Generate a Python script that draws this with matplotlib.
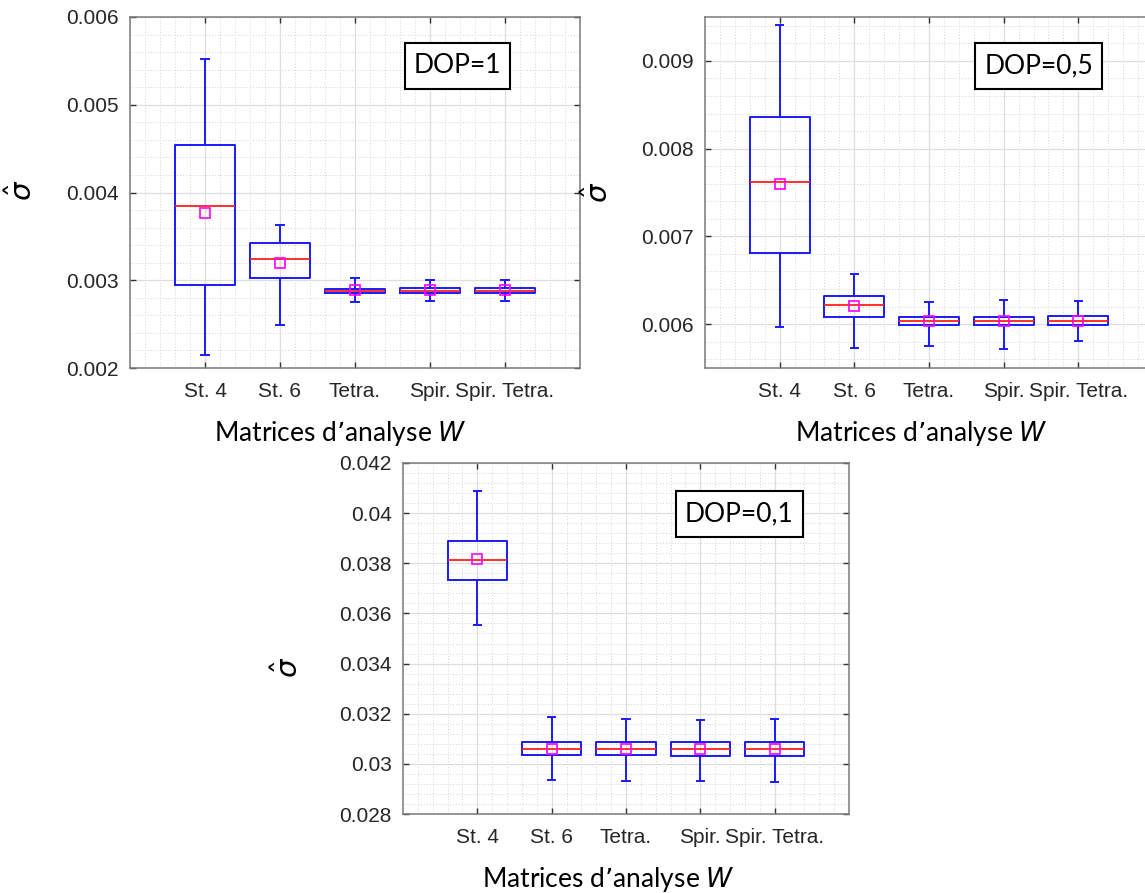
import numpy as np
import matplotlib.pyplot as plt
from matplotlib.patches import Rectangle
from matplotlib.ticker import MultipleLocator

labels = ["St. 4", "St. 6", "Tetra.", "Spir.", "Spir. Tetra."]

# DOP = 1
dop1_whislo = [0.002152, 0.002485, 0.002747, 0.002758, 0.002766]
dop1_q1 = [0.002941, 0.003024, 0.002857, 0.002857, 0.002857]
dop1_med = [0.003843, 0.003247, 0.002883, 0.002883, 0.002883]
dop1_q3 = [0.004537, 0.003429, 0.002905, 0.002910, 0.002910]
dop1_whishi = [0.005526, 0.003634, 0.003024, 0.003001, 0.003001]
dop1_mean = [0.003763, 0.003202, 0.002887, 0.002887, 0.002887]

# DOP = 0,5
dop05_whislo = [0.005970, 0.005727, 0.005753, 0.005711, 0.005806]
dop05_q1 = [0.006805, 0.006084, 0.005985, 0.005985, 0.005985]
dop05_med = [0.007618, 0.006216, 0.006034, 0.006034, 0.006034]
dop05_q3 = [0.008355, 0.006319, 0.006084, 0.006084, 0.006088]
dop05_whishi = [0.009411, 0.006573, 0.006254, 0.006270, 0.006266]
dop05_mean = [0.007595, 0.006201, 0.006034, 0.006034, 0.006034]

# DOP = 0,1
dop01_whislo = [0.035552, 0.029343, 0.029303, 0.029316, 0.029290]
dop01_q1 = [0.037347, 0.030367, 0.030340, 0.030327, 0.030327]
dop01_med = [0.038145, 0.030606, 0.030606, 0.030606, 0.030606]
dop01_q3 = [0.038903, 0.030872, 0.030872, 0.030872, 0.030885]
dop01_whishi = [0.040884, 0.031856, 0.031776, 0.031736, 0.031803]
dop01_mean = [0.038158, 0.030606, 0.030606, 0.030606, 0.030606]

plt.rcParams['mathtext.fontset'] = 'dejavusans'

W, H = 1145, 893
fig = plt.figure(figsize=(W / 100, H / 100), dpi=100)


def add_axes_px(left, right, top, bottom):
    return fig.add_axes([left / W, 1 - bottom / H, (right - left) / W, (bottom - top) / H])


def draw_panel(ax, whislo, q1, med, q3, whishi, mean, ylim, ystep, yminor,
               title, box_x, box_y, xlab_pos, ylab_pos):
    stats = []
    for i in range(len(labels)):
        stats.append(dict(whislo=whislo[i], q1=q1[i], med=med[i], q3=q3[i],
                          whishi=whishi[i], mean=mean[i], fliers=[], label=labels[i]))
    blue = '#1a1aff'
    ax.bxp(stats, positions=range(1, 6), widths=0.8, capwidths=0.1,
           showmeans=True, showfliers=False, zorder=3,
           boxprops=dict(color=blue, lw=1.4),
           whiskerprops=dict(color=blue, lw=1.4, solid_capstyle='butt'),
           capprops=dict(color=blue, lw=1.4),
           medianprops=dict(color='#ff2020', lw=1.3),
           meanprops=dict(marker='s', mfc='none', mec='#ff00ff', ms=6.5, mew=1.2))

    ax.set_xlim(0, 6)
    ax.set_ylim(*ylim)
    ax.set_xticks(range(1, 6))
    ax.set_xticklabels(labels)
    yt = np.round(np.arange(np.ceil(ylim[0] / ystep - 1e-6) * ystep, ylim[1] + 1e-9, ystep), 6)
    ax.set_yticks(yt)
    ax.set_yticklabels(['{:g}'.format(v) for v in yt])
    ax.xaxis.set_minor_locator(MultipleLocator(0.2))
    ax.yaxis.set_minor_locator(MultipleLocator(yminor))

    ax.grid(True, which='major', color='#dedede', lw=0.9, ls='-', zorder=0)
    ax.grid(True, which='minor', color='#d4d4d4', lw=0.7, ls=(0, (1, 2)), zorder=0)
    ax.set_axisbelow(True)

    ax.tick_params(which='major', direction='in', length=4, width=1, color='#333333',
                   top=True, right=True, labelsize=15, labelcolor='#262626')
    ax.tick_params(axis='x', which='major', pad=10)
    ax.tick_params(axis='y', which='major', pad=8)
    ax.tick_params(which='minor', length=0, top=True, right=True)
    for lab in ax.get_xticklabels() + ax.get_yticklabels():
        lab.set_family('Liberation Sans')
    for sp in ax.spines.values():
        sp.set_color('#7a7a7a')
        sp.set_linewidth(1.1)

    ax.set_xlabel('Matrices d\u2019analyse $\\mathit{W}$', fontsize=19, family='Lato')
    ax.xaxis.set_label_coords(*xlab_pos)
    ax.xaxis.label.set_va('center')
    ax.set_ylabel(r'$\hat{\sigma}$', fontsize=21)
    ax.yaxis.set_label_coords(*ylab_pos)
    ax.yaxis.label.set_va('center')

    ax.add_patch(Rectangle((box_x[0], box_y[0]), box_x[1] - box_x[0], box_y[1] - box_y[0],
                           transform=ax.transAxes, facecolor='white', edgecolor='black',
                           lw=1.5, zorder=5))
    ax.text((box_x[0] + box_x[1]) / 2, (box_y[0] + box_y[1]) / 2, title,
            transform=ax.transAxes, ha='center', va='center', fontsize=19,
            family='Lato', zorder=6)


ax1 = add_axes_px(130, 580, 17, 368)
draw_panel(ax1, dop1_whislo, dop1_q1, dop1_med, dop1_q3, dop1_whishi, dop1_mean,
           (0.002, 0.006), 0.001, 0.0002, 'DOP=1',
           (0.611, 0.844), (0.795, 0.926), (0.467, -0.188), (-0.24, 0.507))

ax2 = add_axes_px(705, 1153, 17, 368)
draw_panel(ax2, dop05_whislo, dop05_q1, dop05_med, dop05_q3, dop05_whishi, dop05_mean,
           (0.0055, 0.0095), 0.001, 0.0002, 'DOP=0,5',
           (0.603, 0.886), (0.795, 0.926), (0.482, -0.188), (-0.237, 0.501))

ax3 = add_axes_px(403, 849, 463, 814)
draw_panel(ax3, dop01_whislo, dop01_q1, dop01_med, dop01_q3, dop01_whishi, dop01_mean,
           (0.028, 0.042), 0.002, 0.0004, 'DOP=0,1',
           (0.611, 0.896), (0.79, 0.92), (0.461, -0.188), (-0.257, 0.419))

fig.savefig('out.png', dpi=100, facecolor='white')
